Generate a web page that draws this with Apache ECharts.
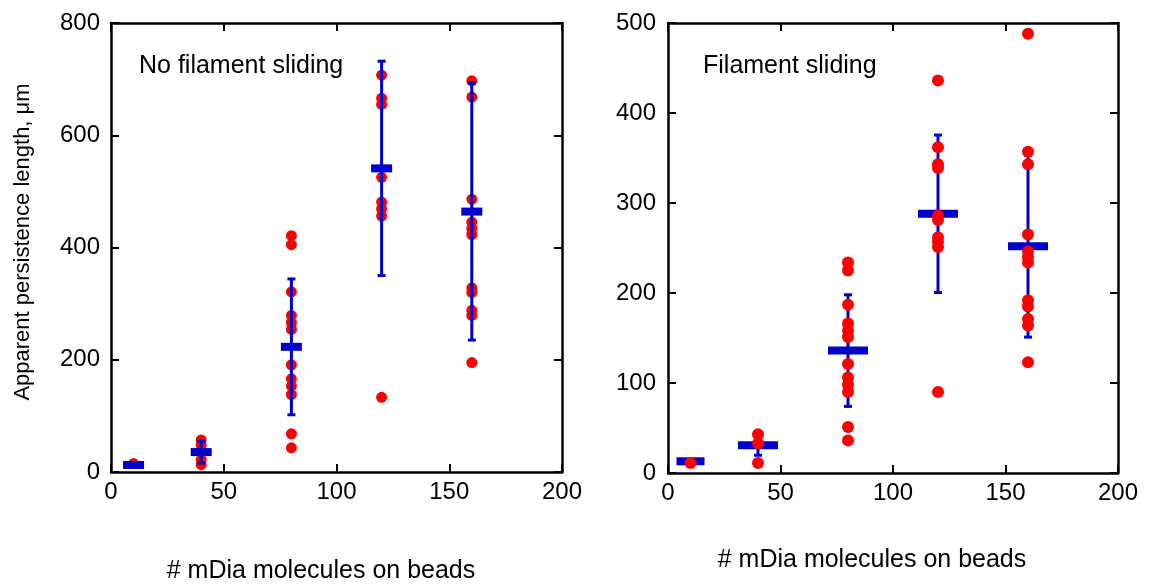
<!DOCTYPE html>
<html>
<head>
<meta charset="utf-8">
<script src="https://cdn.jsdelivr.net/npm/echarts@6/dist/echarts.min.js"></script>
<style>
  html, body { margin: 0; padding: 0; background: #fff; }
  #chart { width: 1149px; height: 585px; }
</style>
</head>
<body>
<div id="chart"></div>
<script>
// Number of mDia molecules per bead (x positions of each group)
const mdiaCounts = [10, 40, 80, 120, 160];
const xTickValues = [0, 50, 100, 150, 200];
const noSlideYTicks = [0, 200, 400, 600, 800];
const slideYTicks = [0, 100, 200, 300, 400, 500];

// No filament sliding: individual measurements (µm), one list per group
const noSlidePoints = [
  [15],
  [57, 48, 22, 13],
  [421, 405, 321, 279, 266, 254, 191, 166, 153, 138, 68, 43],
  [707, 666, 655, 525, 481, 469, 456, 133],
  [697, 668, 486, 445, 434, 423, 328, 320, 288, 279, 195]
];
const noSlideMean = [12.5, 35.5, 223, 541, 464];
const noSlideSD = [2, 19.5, 121, 191, 229];

// Filament sliding: individual measurements (µm), one list per group
const slidePoints = [
  [11],
  [43, 33, 11],
  [234, 225, 187, 166, 158, 151, 121, 106, 98, 90, 51, 36],
  [436, 362, 343, 339, 286, 281, 262, 257, 251, 90],
  [488, 357, 343, 265, 246, 240, 234, 192, 185, 171, 164, 123]
];
const slideMean = [13, 30.7, 136, 288, 252];
const slideSD = [0, 11, 62, 87.5, 101];

const RED = '#ff0000';
const BLUE = '#0000cc';
const FONT = '"Liberation Sans", Arial, Helvetica, sans-serif';

function scatterData(groups) {
  const out = [];
  groups.forEach((vals, i) => vals.forEach(v => out.push([mdiaCounts[i], v])));
  return out;
}
function errorData(mean, sd) {
  return mean.map((m, i) => [mdiaCounts[i], m - sd[i], m + sd[i]]);
}
function meanData(mean) {
  return mean.map((m, i) => [mdiaCounts[i], m]);
}

function errorBarRenderer(capW) {
  return function (params, api) {
    const x = api.value(0);
    const lo = api.coord([x, api.value(1)]);
    const hi = api.coord([x, api.value(2)]);
    const style = { stroke: BLUE, lineWidth: 3 };
    return {
      type: 'group',
      children: [
        { type: 'line', shape: { x1: lo[0], y1: lo[1], x2: hi[0], y2: hi[1] }, style },
        { type: 'line', shape: { x1: lo[0] - capW / 2, y1: lo[1], x2: lo[0] + capW / 2, y2: lo[1] }, style },
        { type: 'line', shape: { x1: hi[0] - capW / 2, y1: hi[1], x2: hi[0] + capW / 2, y2: hi[1] }, style }
      ]
    };
  };
}
function meanBarRenderer(widths, h) {
  return function (params, api) {
    const c = api.coord([api.value(0), api.value(1)]);
    const w = widths[params.dataIndex];
    return {
      type: 'rect',
      shape: { x: c[0] - w / 2, y: c[1] - h / 2, width: w, height: h },
      style: { fill: BLUE }
    };
  };
}

const frameLine = { show: true, onZero: false, lineStyle: { color: '#000', width: 2.5 } };
const innerTick = { show: true, inside: true, length: 8, lineStyle: { color: '#000', width: 2 } };
const tickLabel = { color: '#000', fontSize: 24, fontFamily: FONT };

function xAxes(gridIndex) {
  return [
    { type: 'value', gridIndex, min: 0, max: 200, interval: 50, position: 'bottom',
      axisLine: frameLine, axisTick: innerTick, splitLine: { show: false },
      axisLabel: Object.assign({ margin: 8 }, tickLabel) },
    { type: 'value', gridIndex, min: 0, max: 200, interval: 50, position: 'top',
      axisLine: frameLine, axisTick: innerTick, splitLine: { show: false },
      axisLabel: { show: false } }
  ];
}
function yAxes(gridIndex, max, interval, margin) {
  return [
    { type: 'value', gridIndex, min: 0, max, interval, position: 'left',
      axisLine: frameLine, axisTick: innerTick, splitLine: { show: false },
      axisLabel: Object.assign({ margin }, tickLabel) },
    { type: 'value', gridIndex, min: 0, max, interval, position: 'right',
      axisLine: frameLine, axisTick: innerTick, splitLine: { show: false },
      axisLabel: { show: false } }
  ];
}

const chart = echarts.init(document.getElementById('chart'));
chart.setOption({
  animation: false,
  backgroundColor: '#fff',
  grid: [
    { left: 111, top: 23, width: 451, height: 449 },
    { left: 668, top: 23, width: 450, height: 450 }
  ],
  xAxis: [...xAxes(0), ...xAxes(1)],
  yAxis: [
    ...yAxes(0, noSlideYTicks[noSlideYTicks.length - 1], noSlideYTicks[1] - noSlideYTicks[0], 11),
    ...yAxes(1, slideYTicks[slideYTicks.length - 1], slideYTicks[1] - slideYTicks[0], 12)
  ],
  series: [
    // No filament sliding: dots beneath the blue summary marks
    { type: 'scatter', xAxisIndex: 0, yAxisIndex: 0, z: 2, symbol: 'circle', symbolSize: 11,
      itemStyle: { color: RED, opacity: 1 }, data: scatterData(noSlidePoints) },
    { type: 'custom', xAxisIndex: 0, yAxisIndex: 0, z: 3, renderItem: errorBarRenderer(8),
      data: errorData(noSlideMean, noSlideSD) },
    { type: 'custom', xAxisIndex: 0, yAxisIndex: 0, z: 4, renderItem: meanBarRenderer([21, 21, 21, 21, 21], 8),
      data: meanData(noSlideMean) },
    // Filament sliding: dots drawn over the blue summary marks
    { type: 'custom', xAxisIndex: 2, yAxisIndex: 2, z: 2, renderItem: errorBarRenderer(8),
      data: errorData(slideMean, slideSD) },
    { type: 'custom', xAxisIndex: 2, yAxisIndex: 2, z: 3, renderItem: meanBarRenderer([28, 40, 40, 40, 40], 8),
      data: meanData(slideMean) },
    { type: 'scatter', xAxisIndex: 2, yAxisIndex: 2, z: 4, symbol: 'circle', symbolSize: 12,
      itemStyle: { color: RED, opacity: 1 }, data: scatterData(slidePoints) }
  ],
  graphic: [
    { type: 'text', left: 139, top: 54, z: 10,
      style: { text: 'No filament sliding', fill: '#000', fontSize: 25, fontFamily: FONT } },
    { type: 'text', left: 703, top: 54, z: 10,
      style: { text: 'Filament sliding', fill: '#000', fontSize: 25, fontFamily: FONT } },
    { type: 'text', x: 23, y: 242, rotation: Math.PI / 2, z: 10,
      style: { text: 'Apparent persistence length, μm', fill: '#000', fontSize: 22, fontFamily: FONT,
               align: 'center', verticalAlign: 'middle' } },
    { type: 'text', x: 321, y: 571, z: 10,
      style: { text: '# mDia molecules on beads', fill: '#000', fontSize: 25, fontFamily: FONT,
               align: 'center', verticalAlign: 'middle' } },
    { type: 'text', x: 872, y: 560, z: 10,
      style: { text: '# mDia molecules on beads', fill: '#000', fontSize: 25, fontFamily: FONT,
               align: 'center', verticalAlign: 'middle' } }
  ]
});
</script>
</body>
</html>
